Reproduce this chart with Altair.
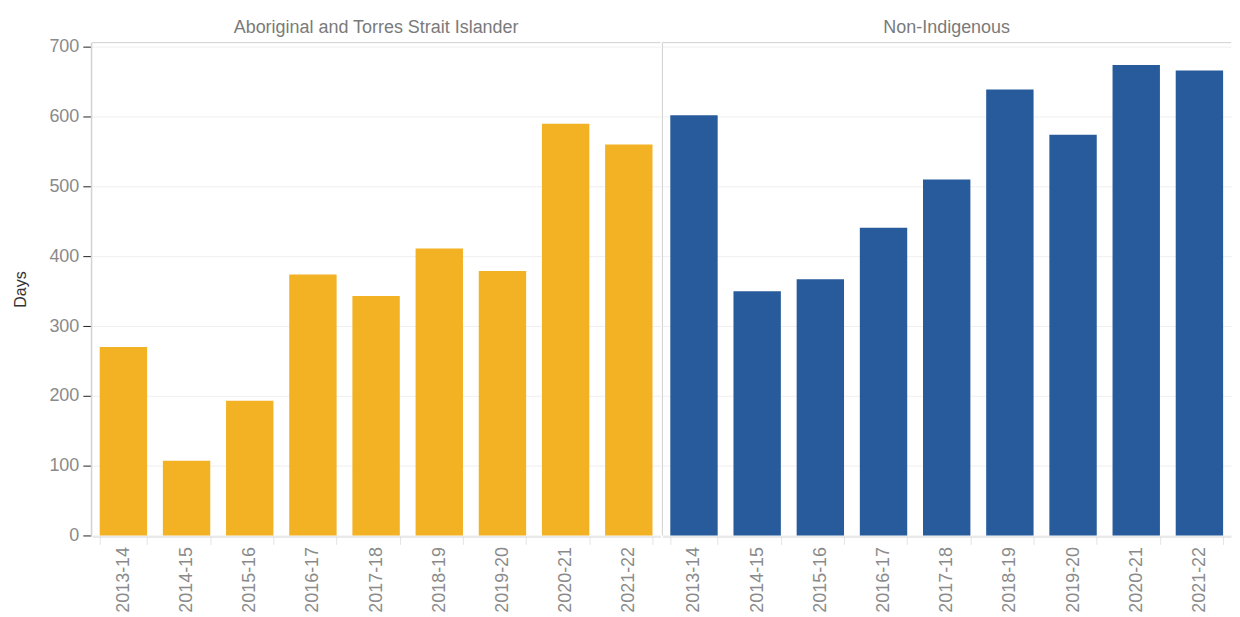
import altair as alt
import pandas as pd

years = ["2013-14", "2014-15", "2015-16", "2016-17", "2017-18",
         "2018-19", "2019-20", "2020-21", "2021-22"]
groups = ["Aboriginal and Torres Strait Islander", "Non-Indigenous"]
indigenous_days = [270, 107, 193, 374, 343, 411, 379, 590, 560]
non_indigenous_days = [602, 350, 367, 441, 510, 639, 574, 674, 666]
colors = ["#F3B124", "#275B9B"]

rows = []
for y, v in zip(years, indigenous_days):
    rows.append({"group": groups[0], "year": y, "days": v})
for y, v in zip(years, non_indigenous_days):
    rows.append({"group": groups[1], "year": y, "days": v})
df = pd.DataFrame(rows)

W = 570
H = 494

bars = alt.Chart().mark_bar().encode(
    x=alt.X("year:N", sort=years, title=None,
            scale=alt.Scale(paddingInner=0.25, paddingOuter=0.125),
            axis=alt.Axis(labelAngle=-90, labelFontSize=18, labelColor="#8a8a8a",
                          labelFont="Liberation Sans", labelPadding=2,
                          tickBand="extent", tickColor="#e4e4e4", tickSize=8,
                          domainColor="#d0d0d0", labelBaseline="middle", labelAlign="right")),
    y=alt.Y("days:Q", title="Days",
            scale=alt.Scale(domain=[0, 706], nice=False),
            axis=alt.Axis(values=[0, 100, 200, 300, 400, 500, 600, 700],
                          labelFontSize=18, labelColor="#8a8a8a", labelFont="Liberation Sans",
                          tickColor="#222", tickSize=8, labelPadding=4,
                          domainColor="#d0d0d0", gridColor="#efefef",
                          titleFontSize=16, titleColor="#333", titleFont="Liberation Sans",
                          titleFontWeight="normal", titlePadding=20)),
    color=alt.Color("group:N", scale=alt.Scale(domain=groups, range=colors), legend=None),
)

top_rule = alt.Chart().transform_aggregate(n="count()").mark_rule(
    color="#d0d0d0", strokeWidth=1
).encode(x=alt.value(0), x2=alt.value(W), y=alt.value(0))

left_rule = alt.Chart().transform_aggregate(n="count()").mark_rule(
    color="#d0d0d0", strokeWidth=1
).encode(x=alt.value(0), y=alt.value(0), y2=alt.value(H))

panel = alt.layer(bars, top_rule, left_rule).properties(width=W, height=H)

chart = panel.facet(
    column=alt.Column("group:N", sort=groups,
                      header=alt.Header(title=None, labelFontSize=18, labelColor="#7a7a7a",
                                        labelFont="Liberation Sans", labelPadding=5)),
    data=df,
).configure_facet(spacing=0).configure_view(stroke=None).properties(
    padding={"left": 4, "top": 10, "right": 0, "bottom": 0}
)

chart.save("out.html", embed_options={"renderer": "svg", "actions": False})
